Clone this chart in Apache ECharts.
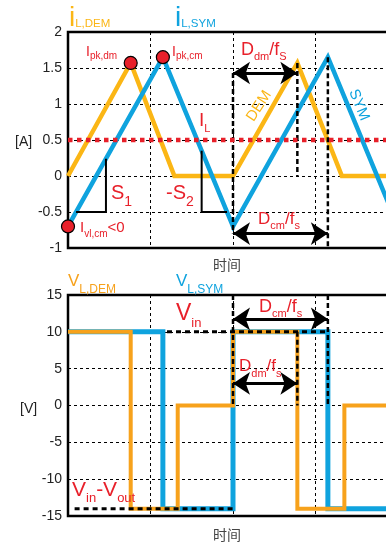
<!DOCTYPE html>
<html>
<head>
<meta charset="utf-8">
<script src="https://cdn.jsdelivr.net/npm/echarts@6/dist/echarts.min.js"></script>
<style>
  html, body { margin: 0; padding: 0; background: #fff; }
  #chart { width: 386px; height: 545px; }
</style>
</head>
<body>
<div id="chart"></div>
<script>
// Inductor current (A) over time, one grid column = half a switching period
const demCurrentT = [0, 0.76, 1.29, 2, 2.78, 3.32, 4];
const demCurrentA = [0, 1.57, 0, 0, 1.57, 0, 0];
const symCurrentT = [0, 1.15, 2, 3.15, 4];
const symCurrentA = [-0.7, 1.65, -0.7, 1.65, -0.7];
const avgCurrentA = 0.5;

// Inductor voltage (V): switching instants and the level held until the next one
const demVoltT = [0, 0.76, 1.33, 2, 2.78, 3.35, 4];
const demVoltV = [10, -14, 0, 10, -14, 0, 0];
const symVoltT = [0, 1.15, 2, 3.15, 4];
const symVoltV = [10, -14, 10, -14, -14];
const vIn = 10;
const vInMinusOut = -14;

// Axis ranges and tick steps
const timeAxis = { min: 0, max: 4, step: 1 };
const currentAxis = { min: -1, max: 2, step: 0.5 };
const voltAxis = { min: -15, max: 15, step: 5 };

const FONT = '"Liberation Sans", Arial, Helvetica, sans-serif';
const CJK = '"Noto Sans CJK SC", sans-serif';
const YEL = '#FBB615';
const ORANGE = '#F7A21C';
const BLUE = '#0FA3DE';
const RED = '#E8202A';

const pairs = (t, v) => t.map((x, i) => [x, v[i]]);

// linear interpolation along a piecewise-linear waveform
function valueAt(ts, vs, t) {
  for (let i = 0; i < ts.length - 1; i++) {
    if (t >= ts[i] && t <= ts[i + 1]) {
      return vs[i] + (vs[i + 1] - vs[i]) * (t - ts[i]) / (ts[i + 1] - ts[i]);
    }
  }
  return vs[vs.length - 1];
}
function timeAt(t0, v0, t1, v1, v) {
  return t0 + (v - v0) * (t1 - t0) / (v1 - v0);
}

// slope triangles on the SYM current
const triLevel = -0.5;
const s1Right = 0.46, s2Left = 1.62;
const s1Start = timeAt(symCurrentT[0], symCurrentA[0], symCurrentT[1], symCurrentA[1], triLevel);
const s2End = timeAt(symCurrentT[1], symCurrentA[1], symCurrentT[2], symCurrentA[2], triLevel);
const triS1 = [[s1Start, triLevel], [s1Right, triLevel], [s1Right, valueAt(symCurrentT, symCurrentA, s1Right)]];
const triS2 = [[s2Left, valueAt(symCurrentT, symCurrentA, s2Left)], [s2Left, triLevel], [s2End, triLevel]];

const periodStart = demCurrentT[3];
const demPeak2 = demCurrentT[4];
const symPeak2 = symCurrentT[3];
const arrowTopI = 1.43, arrowBotI = -0.8;
const arrowTopV = 11.75, arrowBotV = 3;

const dashStyle = { color: '#000', width: 2.5, type: [5, 3], cap: 'butt' };

function seg(gi, points, style, z) {
  return {
    type: 'line', xAxisIndex: gi, yAxisIndex: gi, data: points,
    symbol: 'none', silent: true, lineStyle: style, z: z
  };
}
function arrow(gi, t0, t1, level) {
  return {
    type: 'line', xAxisIndex: gi, yAxisIndex: gi, data: [], silent: true, z: 8,
    markLine: {
      silent: true, symbol: ['arrow', 'arrow'], symbolSize: 17,
      label: { show: false },
      lineStyle: { color: '#000', width: 3, type: 'solid' },
      emphasis: { disabled: true },
      data: [[{ coord: [t0, level] }, { coord: [t1, level] }]]
    }
  };
}

// text with subscripts, laid out piece by piece
const measure = document.createElement('canvas').getContext('2d');
function textWidth(s, fs, fam) {
  measure.font = fs + 'px ' + fam;
  return measure.measureText(s).width;
}
function subLabel(x, baseline, parts, color, mainSize, subSize, drop) {
  const els = [];
  let cx = x;
  parts.forEach(([s, isSub]) => {
    const fs = isSub ? subSize : mainSize;
    const b = isSub ? baseline + drop : baseline;
    els.push({
      type: 'text', x: cx, y: b - 0.347 * fs, z: 100, silent: true,
      style: { text: s, fill: color, fontSize: fs, fontFamily: FONT, align: 'left', verticalAlign: 'middle' }
    });
    cx += textWidth(s, fs, FONT);
  });
  return els;
}
function plainText(x, y, s, color, fs, fam, align, rot) {
  return {
    type: 'text', x: x, y: y, rotation: rot || 0, z: 100, silent: true,
    style: { text: s, fill: color, fontSize: fs, fontFamily: fam, align: align || 'left', verticalAlign: 'middle' }
  };
}

const split = { show: true, lineStyle: { color: '#000', width: 1, type: [3, 3] } };
function xAxisFor(gi) {
  return {
    gridIndex: gi, type: 'value', min: timeAxis.min, max: timeAxis.max, interval: timeAxis.step,
    axisLine: { show: false }, axisTick: { show: false }, axisLabel: { show: false }, splitLine: split
  };
}
function yAxisFor(gi, ax) {
  return {
    gridIndex: gi, type: 'value', min: ax.min, max: ax.max, interval: ax.step,
    axisLine: { show: false }, axisTick: { show: false },
    axisLabel: { fontFamily: FONT, fontSize: 14, color: '#222', margin: 6 },
    splitLine: split
  };
}

const graphics = [].concat(
  subLabel(69, 28, [['i', 0], ['L,DEM', 1]], YEL, 28, 11.5, 0),
  subLabel(175, 28, [['i', 0], ['L,SYM', 1]], BLUE, 28, 11.5, 0),
  subLabel(86, 57, [['I', 0], ['pk,dm', 1]], RED, 14, 10, 3),
  subLabel(172, 57, [['I', 0], ['pk,cm', 1]], RED, 14, 10, 3),
  subLabel(241, 56, [['D', 0], ['dm', 1], ['/f', 0], ['S', 1]], RED, 18, 11, 5),
  subLabel(199, 127, [['I', 0], ['L', 1]], RED, 19, 11, 6),
  subLabel(111, 200, [['S', 0], ['1', 1]], RED, 20, 14, 7),
  subLabel(166, 200, [['-S', 0], ['2', 1]], RED, 20, 14, 7),
  subLabel(80, 233, [['I', 0], ['vl,cm', 1], ['<0', 0]], RED, 15, 10, 5),
  subLabel(258, 225, [['D', 0], ['cm', 1], ['/f', 0], ['s', 1]], RED, 17, 11, 5),
  subLabel(68, 287, [['V', 0], ['L,DEM', 1]], ORANGE, 17, 12, 7),
  subLabel(176, 287, [['V', 0], ['L,SYM', 1]], BLUE, 17, 12, 7),
  subLabel(176, 322, [['V', 0], ['in', 1]], RED, 23, 13, 6),
  subLabel(72, 497, [['V', 0], ['in', 1], ['-V', 0], ['out', 1]], RED, 21, 13, 6),
  subLabel(259, 313, [['D', 0], ['cm', 1], ['/f', 0], ['s', 1]], RED, 18, 11, 5),
  subLabel(239, 372, [['D', 0], ['dm', 1], ['/f', 0], ['s', 1]], RED, 17, 11, 6),
  [
    plainText(259, 106, 'DEM', YEL, 15, FONT, 'center', 57 * Math.PI / 180),
    plainText(359, 105, 'SYM', BLUE, 15, FONT, 'center', -68 * Math.PI / 180),
    plainText(15, 142, '[A]', '#222', 14, FONT),
    plainText(20, 409, '[V]', '#222', 14, FONT),
    plainText(227, 265, '时间', '#444', 14, CJK, 'center'),
    plainText(227, 535, '时间', '#444', 14, CJK, 'center')
  ]
);

const gridBase = { left: 68, width: 330, show: true, borderColor: '#000', borderWidth: 2.5, backgroundColor: 'transparent', outerBoundsMode: 'none', containLabel: false };

const option = {
  animation: false,
  grid: [
    Object.assign({ top: 32, height: 216 }, gridBase),
    Object.assign({ top: 295, height: 221 }, gridBase)
  ],
  xAxis: [xAxisFor(0), xAxisFor(1)],
  yAxis: [yAxisFor(0, currentAxis), yAxisFor(1, voltAxis)],
  series: [
    // current waveforms
    seg(0, pairs(demCurrentT, demCurrentA), { color: YEL, width: 4.5, join: 'miter' }, 3),
    seg(0, pairs(symCurrentT, symCurrentA), { color: BLUE, width: 4.5, join: 'miter' }, 4),
    // slope triangles
    seg(0, triS1, { color: '#000', width: 2, join: 'miter' }, 5),
    seg(0, triS2, { color: '#000', width: 2, join: 'miter' }, 5),
    // duty-cycle markers
    seg(0, [[periodStart, arrowTopI], [periodStart, arrowBotI]], dashStyle, 6),
    seg(0, [[demPeak2, demCurrentA[4]], [demPeak2, 0]], dashStyle, 6),
    seg(0, [[symPeak2, symCurrentA[3]], [symPeak2, currentAxis.min]], dashStyle, 6),
    arrow(0, periodStart, demPeak2, arrowTopI),
    arrow(0, periodStart, symPeak2, arrowBotI),
    // average current
    seg(0, [[timeAxis.min, avgCurrentA], [timeAxis.max, avgCurrentA]], { color: RED, width: 4.5, type: [4.5, 4.5], cap: 'butt' }, 7),
    {
      type: 'scatter', xAxisIndex: 0, yAxisIndex: 0, clip: false, silent: true, z: 9,
      symbol: 'circle', symbolSize: 13,
      itemStyle: { color: RED, borderColor: '#000', borderWidth: 1.2, opacity: 1 },
      data: [[demCurrentT[1], demCurrentA[1]], [symCurrentT[1], symCurrentA[1]], [symCurrentT[0], symCurrentA[0]]]
    },

    // voltage waveforms
    Object.assign(seg(1, pairs(symVoltT, symVoltV), { color: BLUE, width: 5, join: 'miter' }, 3), { step: 'end' }),
    Object.assign(seg(1, pairs(demVoltT, demVoltV), { color: ORANGE, width: 4, join: 'miter' }, 4), { step: 'end' }),
    seg(1, [[1.2, vIn], [symVoltT[3], vIn]], { color: '#000', width: 3, type: [5, 4], cap: 'butt' }, 5),
    seg(1, [[0.08, vInMinusOut], [symVoltT[2], vInMinusOut]], { color: '#000', width: 3, type: [5, 4], cap: 'butt' }, 5),
    seg(1, [[symVoltT[2], voltAxis.max], [symVoltT[2], 0]], dashStyle, 6),
    seg(1, [[demVoltT[4], vIn], [demVoltT[4], 0]], dashStyle, 6),
    seg(1, [[symVoltT[3], voltAxis.max], [symVoltT[3], 0]], dashStyle, 6),
    arrow(1, symVoltT[2], symVoltT[3], arrowTopV),
    arrow(1, symVoltT[2], demVoltT[4], arrowBotV)
  ],
  graphic: graphics
};

const chart = echarts.init(document.getElementById('chart'), null, { renderer: 'canvas' });
chart.setOption(option);
</script>
</body>
</html>
